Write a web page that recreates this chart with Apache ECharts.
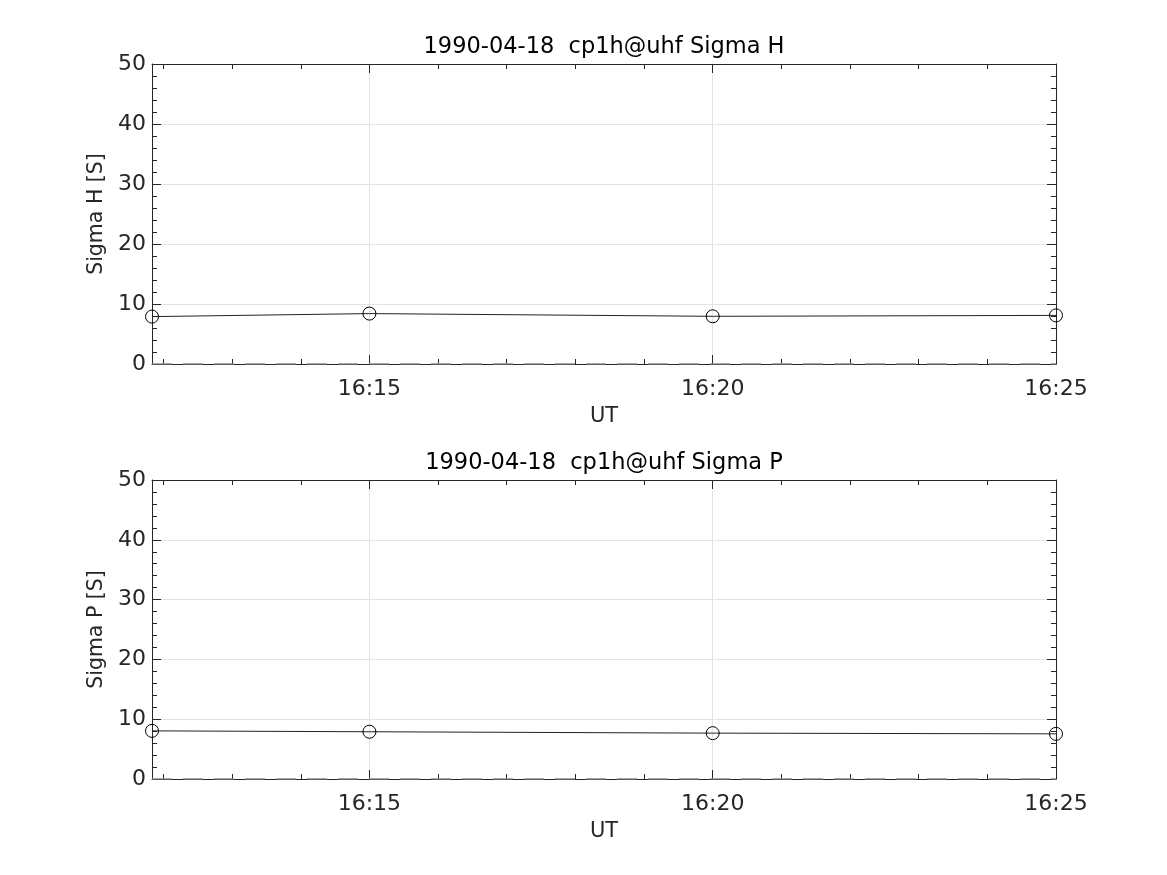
<!DOCTYPE html>
<html>
<head>
<meta charset="utf-8">
<script src="https://cdn.jsdelivr.net/npm/echarts@6/dist/echarts.min.js"></script>
<style>
html,body{margin:0;padding:0;background:#fff;}
#chart{width:1167px;height:875px;}
</style>
</head>
<body>
<div id="chart"></div>
<script>
// ---- data ----
const dateLabel = '1990-04-18';
const expLabel = 'cp1h@uhf';
const times = ['16:11:50', '16:15:00', '16:20:00', '16:25:00'];
const sigmaH = [7.9, 8.4, 7.95, 8.1];
const sigmaP = [8.05, 7.9, 7.67, 7.55];
const sigmaRef = [0, 0, 0, 0];
const xMajorTicks = ['16:15', '16:20', '16:25'];
const xMinorTicks = ['16:12', '16:13', '16:14', '16:16', '16:17', '16:18', '16:19', '16:21', '16:22', '16:23', '16:24'];
const yTicks = [0, 10, 20, 30, 40, 50];
const panelTitles = ['Sigma H', 'Sigma P'];
const panelYNames = ['Sigma H [S]', 'Sigma P [S]'];
const panelValues = [sigmaH, sigmaP];

// ---- helpers ----
function toMin(t) {
  const p = t.split(':').map(Number);
  return p[0] * 60 + p[1] + (p[2] || 0) / 60;
}
function fmt(v) {
  const m = Math.round(v);
  const h = Math.floor(m / 60), mm = m % 60;
  return h + ':' + (mm < 10 ? '0' : '') + mm;
}
const xs = times.map(toMin);
const xMin = xs[0], xMax = xs[xs.length - 1];
const majors = xMajorTicks.map(toMin);
const minors = xMinorTicks.map(toMin);

const FONT = 'DejaVu Sans';
const AX = '#262626';
const GRIDC = '#e3e3e3';

const rects = [
  { left: 152, top: 64, width: 904, height: 300 },
  { left: 152, top: 480, width: 904, height: 299 }
];

const grid = [], xAxis = [], yAxis = [], series = [];

rects.forEach((r, i) => {
  const gMain = grid.length;
  grid.push(Object.assign({ containLabel: false }, r));
  const gMinor = grid.length;
  grid.push(Object.assign({ containLabel: false }, r));

  // main bottom x axis
  const xMainIdx = xAxis.length;
  xAxis.push({
    type: 'value', gridIndex: gMain, position: 'bottom', min: xMin, max: xMax,
    name: 'UT', nameLocation: 'middle', nameGap: 42,
    nameTextStyle: { fontFamily: FONT, fontSize: 21, color: AX },
    axisLine: { show: true, onZero: false, lineStyle: { color: AX, width: 1 } },
    axisTick: { show: true, inside: true, length: 9, customValues: majors, lineStyle: { color: AX } },
    axisLabel: { show: true, customValues: majors, margin: 14, formatter: fmt,
      fontFamily: FONT, fontSize: 22, color: AX, showMinLabel: true, showMaxLabel: true },
    splitLine: { show: true, lineStyle: { color: GRIDC, width: 1 } },
    minorTick: { show: false }
  });
  // main top x axis (holds the title)
  xAxis.push({
    type: 'value', gridIndex: gMain, position: 'top', min: xMin, max: xMax,
    name: dateLabel + '  ' + expLabel + ' ' + panelTitles[i],
    nameLocation: 'middle', nameGap: 5,
    nameTextStyle: { fontFamily: FONT, fontSize: 22.5, color: '#000' },
    axisLine: { show: true, onZero: false, lineStyle: { color: AX, width: 1 } },
    axisTick: { show: true, inside: true, length: 9, customValues: majors, lineStyle: { color: AX } },
    axisLabel: { show: false },
    splitLine: { show: false }
  });
  // minor x axes
  xAxis.push({
    type: 'value', gridIndex: gMinor, position: 'bottom', min: xMin, max: xMax,
    axisLine: { show: false },
    axisTick: { show: true, inside: true, length: 5, customValues: minors, lineStyle: { color: AX } },
    axisLabel: { show: false }, splitLine: { show: false }
  });
  xAxis.push({
    type: 'value', gridIndex: gMinor, position: 'top', min: xMin, max: xMax,
    axisLine: { show: false },
    axisTick: { show: true, inside: true, length: 5, customValues: minors, lineStyle: { color: AX } },
    axisLabel: { show: false }, splitLine: { show: false }
  });

  // y axes
  const yMainIdx = yAxis.length;
  const yCommon = {
    type: 'value', min: yTicks[0], max: yTicks[yTicks.length - 1], interval: yTicks[1] - yTicks[0],
    axisLine: { show: true, onZero: false, lineStyle: { color: AX, width: 1 } },
    axisTick: { show: true, inside: true, length: 9, lineStyle: { color: AX } },
    minorTick: { show: true, splitNumber: 5, length: 5, lineStyle: { color: AX } }
  };
  yAxis.push(Object.assign({}, yCommon, {
    gridIndex: gMain, position: 'left',
    name: panelYNames[i], nameLocation: 'middle', nameGap: 39, nameRotate: 90,
    nameTextStyle: { fontFamily: FONT, fontSize: 20.5, color: AX },
    axisLabel: { show: true, margin: 6, fontFamily: FONT, fontSize: 22, color: AX },
    splitLine: { show: true, lineStyle: { color: GRIDC, width: 1 } }
  }));
  yAxis.push(Object.assign({}, yCommon, {
    gridIndex: gMain, position: 'right',
    axisLabel: { show: false }, splitLine: { show: false }
  }));
  yAxis.push({ type: 'value', gridIndex: gMinor, min: 0, max: 50, show: false });

  series.push({
    type: 'line', xAxisIndex: xMainIdx, yAxisIndex: yMainIdx,
    data: xs.map((x, k) => [x, sigmaRef[k]]),
    symbol: 'none', silent: true, z: 5,
    lineStyle: { color: '#8a8a8a', width: 1.5, type: [20, 11] }
  });
  series.push({
    type: 'line', xAxisIndex: xMainIdx, yAxisIndex: yMainIdx,
    data: xs.map((x, k) => [x, panelValues[i][k]]),
    symbol: 'circle', symbolSize: 13, z: 6,
    lineStyle: { color: '#222', width: 1 },
    itemStyle: { color: 'rgba(255,255,255,0)', borderColor: '#000', borderWidth: 1 }
  });
});

const chart = echarts.init(document.getElementById('chart'), null, { renderer: 'canvas' });
chart.setOption({
  animation: false,
  backgroundColor: '#fff',
  textStyle: { fontFamily: FONT },
  grid, xAxis, yAxis, series
});
</script>
</body>
</html>
